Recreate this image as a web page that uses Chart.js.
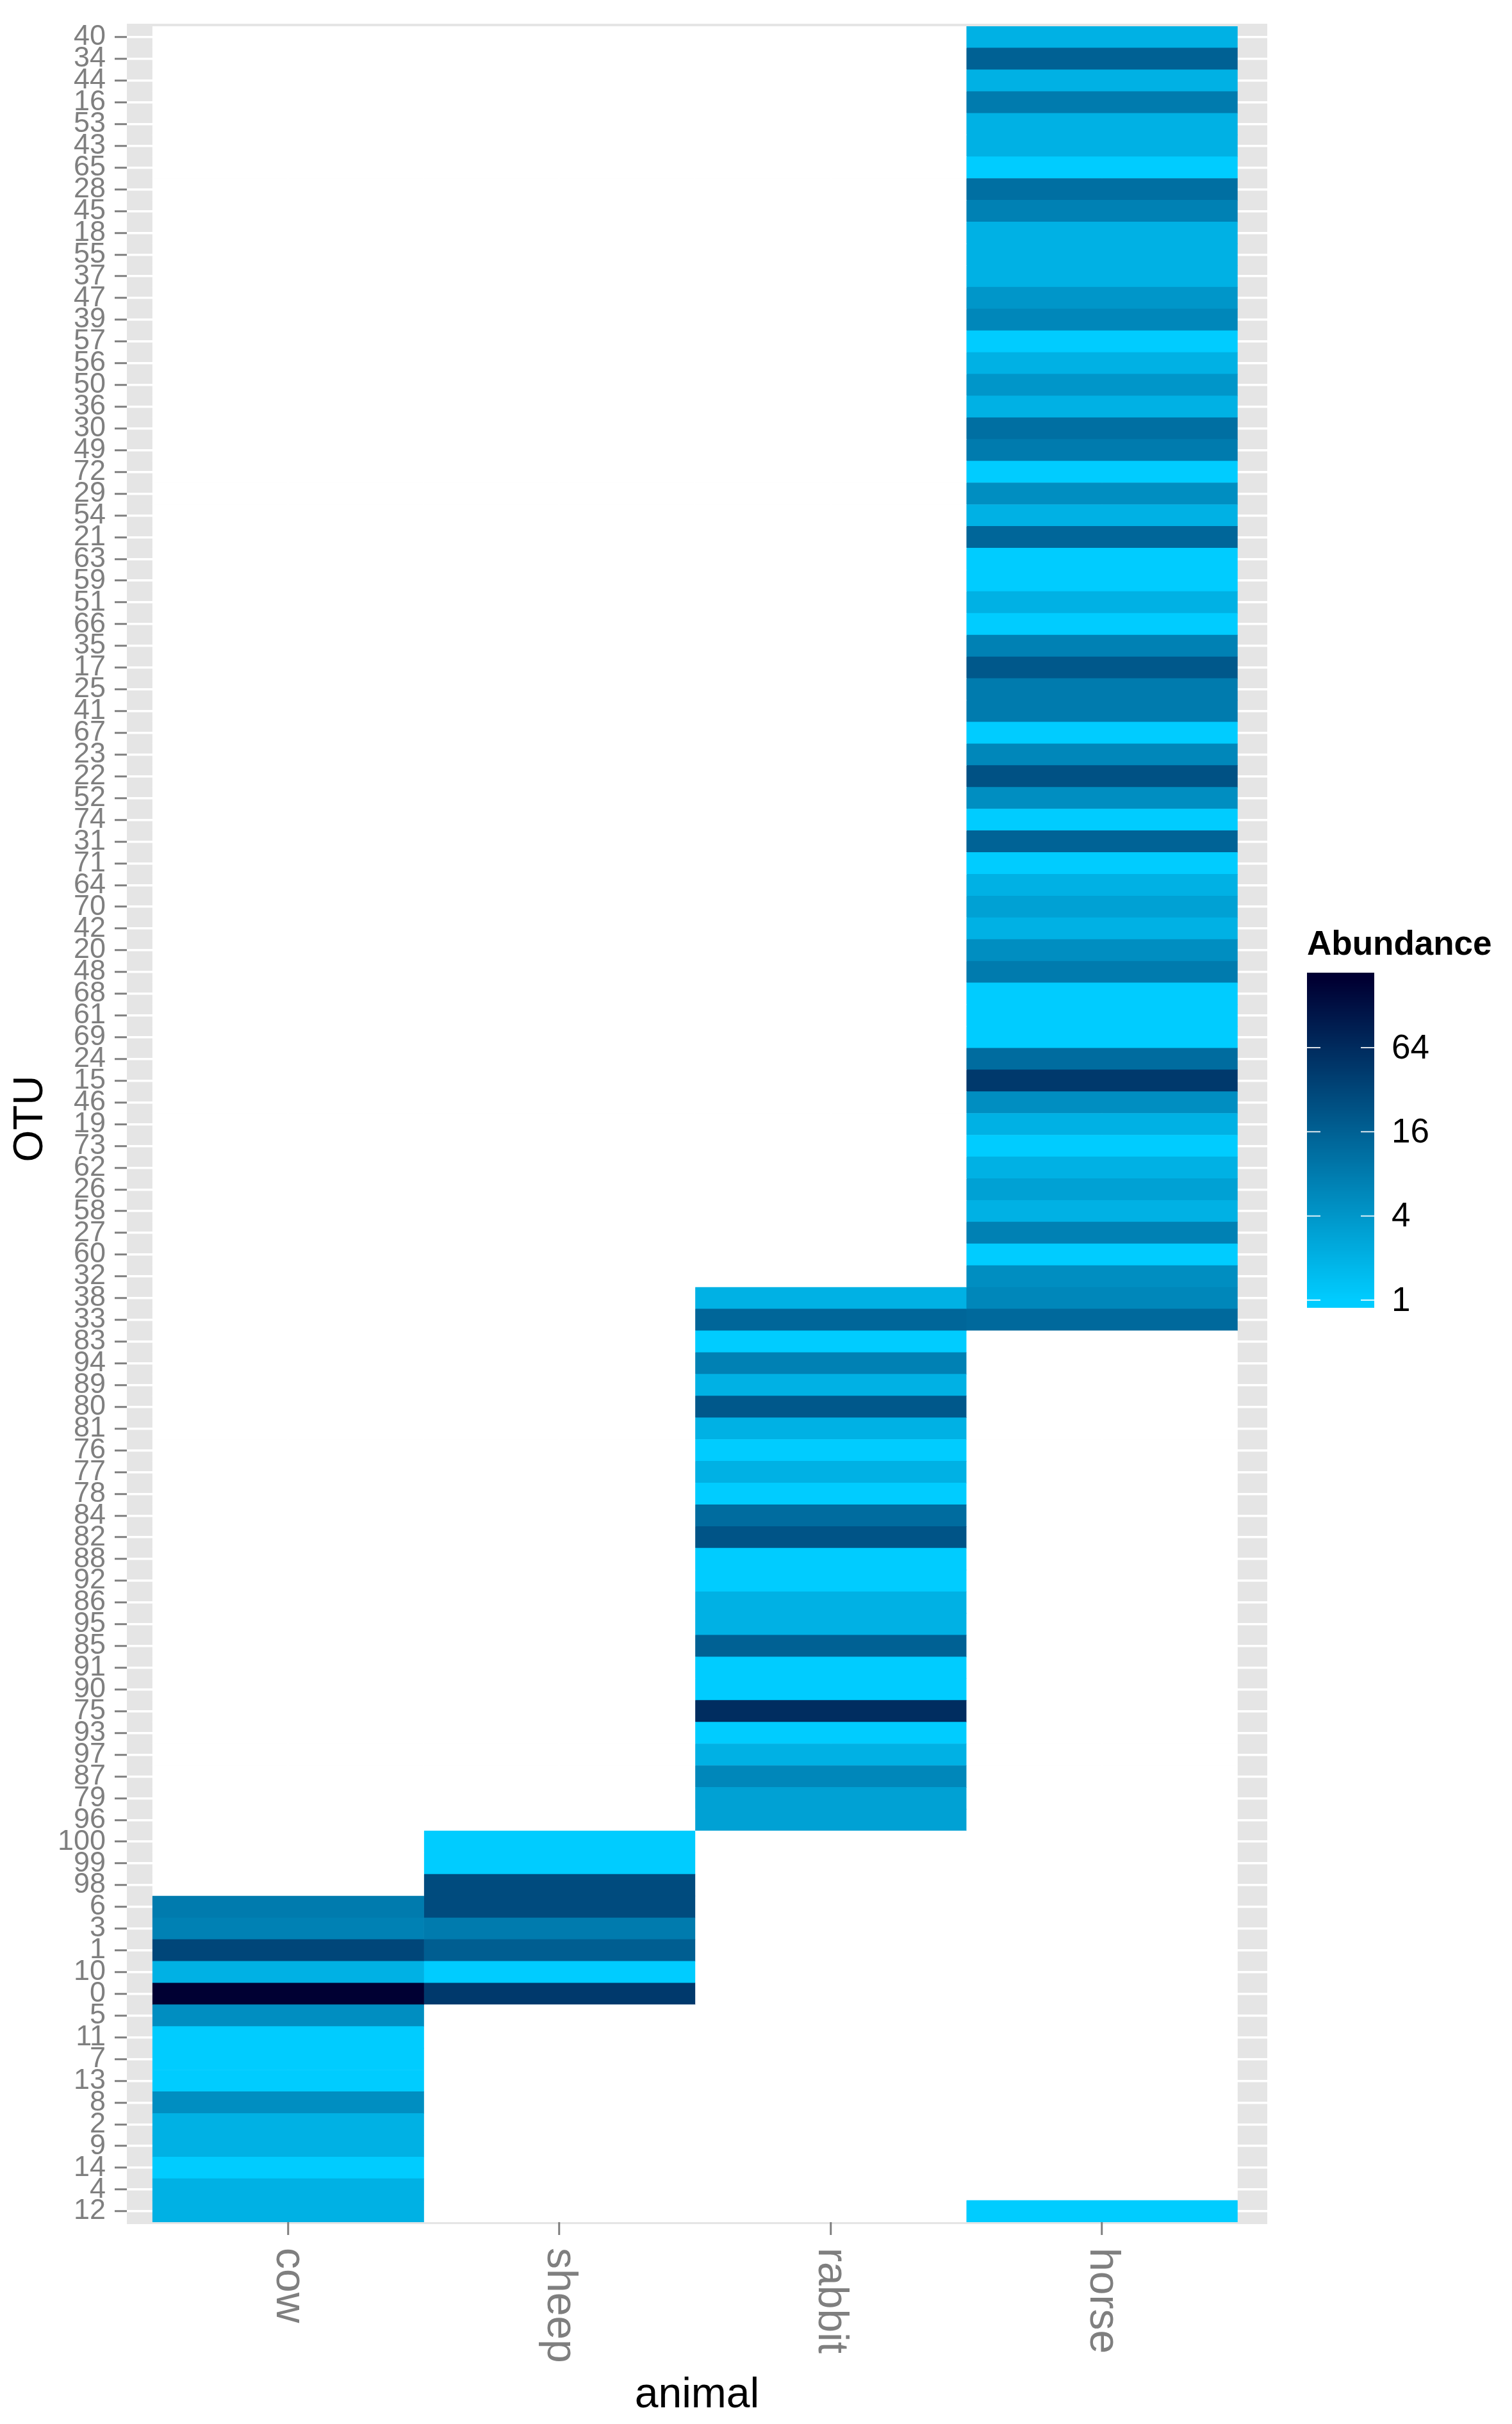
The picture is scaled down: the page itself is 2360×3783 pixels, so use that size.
<!DOCTYPE html>
<html>
<head>
<meta charset="utf-8">
<script src="https://cdn.jsdelivr.net/npm/chart.js@4.4.1/dist/chart.umd.min.js"></script>
<style>
  html, body { margin: 0; padding: 0; background: #ffffff; }
  canvas { display: block; }
</style>
</head>
<body>
<canvas id="c" width="2360" height="3783" style="width:2360px;height:3783px"></canvas>
<script>
// ---------- DATA ----------
// OTU categories, top to bottom as shown on the y axis
const otus = ['40','34','44','16','53','43','65','28','45','18','55','37','47','39','57','56','50','36','30','49',
  '72','29','54','21','63','59','51','66','35','17','25','41','67','23','22','52','74','31','71','64',
  '70','42','20','48','68','61','69','24','15','46','19','73','62','26','58','27','60','32','38','33',
  '83','94','89','80','81','76','77','78','84','82','88','92','86','95','85','91','90','75','93','97',
  '87','79','96','100','99','98','6','3','1','10','0','5','11','7','13','8','2','9','14','4','12'];

const animals = ['cow', 'sheep', 'rabbit', 'horse'];

const cowOtu = ['6','3','1','10','0','5','11','7','13','8','2','9','14','4','12'];
const cowVal = [8, 7, 32, 2, 194, 5, 1, 1, 1, 5, 2, 2, 1, 2, 2];

const sheepOtu = ['100','99','98','6','3','1','10','0'];
const sheepVal = [1, 1, 28, 28, 8, 17, 1, 45];

const rabbitOtu = ['38','33','83','94','89','80','81','76','77','78','84','82','88','92','86','95','85','91','90','75','93','97','87','79','96'];
const rabbitVal = [2, 14, 1, 7, 2, 20, 2, 1, 2, 1, 12, 22, 1, 1, 2, 2, 16, 1, 1, 60, 1, 2, 6, 3, 3];

const horseOtu = ['40','34','44','16','53','43','65','28','45','18','55','37','47','39','57','56','50','36','30','49',
  '72','29','54','21','63','59','51','66','35','17','25','41','67','23','22','52','74','31','71','64',
  '70','42','20','48','68','61','69','24','15','46','19','73','62','26','58','27','60','32','38','33','12'];
const horseVal = [2, 16, 2, 8, 2, 2, 1, 11, 7, 2, 2, 2, 4, 6, 1, 2, 4, 2, 11, 8,
  1, 5, 2, 14, 1, 1, 2, 1, 7, 20, 8, 8, 1, 6, 24, 5, 1, 15, 1, 2,
  3, 2, 5, 8, 1, 1, 1, 12, 45, 5, 2, 1, 2, 3, 2, 7, 1, 5, 6, 13, 1];

const legendBreaks = [1, 4, 16, 64];
const legendTitle = 'Abundance';
const xTitle = 'animal';
const yTitle = 'OTU';

// ---------- COLOUR SCALE (log2, RGB interpolation) ----------
const lowColor = '#00CCFF', highColor = '#000033', emptyColor = '#FFFFFF';
function hexToRgb(h) { return [parseInt(h.slice(1,3),16), parseInt(h.slice(3,5),16), parseInt(h.slice(5,7),16)]; }
const rgbLow = hexToRgb(lowColor), rgbHigh = hexToRgb(highColor);
const allVals = [].concat(cowVal, sheepVal, rabbitVal, horseVal);
const vMin = Math.min.apply(null, allVals), vMax = Math.max.apply(null, allVals);
const lMin = Math.log2(vMin), lMax = Math.log2(vMax);
function tOf(v) { return Math.max(0, Math.min(1, (Math.log2(v) - lMin) / (lMax - lMin))); }
function colourAtT(t) {
  const c = [0,1,2].map(k => Math.round(rgbLow[k] + (rgbHigh[k] - rgbLow[k]) * t));
  return 'rgb(' + c[0] + ',' + c[1] + ',' + c[2] + ')';
}
function colourOf(v) { return (v === null || v === undefined) ? emptyColor : colourAtT(tOf(v)); }

// ---------- DATASETS ----------
const perAnimal = [[cowOtu, cowVal], [sheepOtu, sheepVal], [rabbitOtu, rabbitVal], [horseOtu, horseVal]];
const datasets = animals.map((name, i) => {
  const ids = perAnimal[i][0], vals = perAnimal[i][1];
  const lookup = {};
  ids.forEach((o, k) => { lookup[o] = vals[k]; });
  return {
    label: name,
    data: otus.map(o => ({ y: o, x: [i - 0.5, i + 0.5] })),
    backgroundColor: otus.map(o => colourOf(lookup[o])),
    borderWidth: 0
  };
});

// ---------- PLUGINS (panel, titles, rotated x labels, colourbar) ----------
const FONT = "'Liberation Sans', Arial, Helvetica, sans-serif";
const panelPlugin = {
  id: 'panel',
  beforeDraw(chart) {
    const c = chart.ctx, a = chart.chartArea;
    c.save();
    c.fillStyle = '#ffffff';
    c.fillRect(0, 0, chart.width, chart.height);
    c.fillStyle = '#E5E5E5';
    c.fillRect(a.left, a.top - 4, a.right - a.left, a.bottom - a.top + 7);
    c.restore();
  }
};
const decorPlugin = {
  id: 'decor',
  afterDraw(chart) {
    const c = chart.ctx, a = chart.chartArea, xs = chart.scales.x;
    c.save();
    // rotated x tick labels (reading downward)
    c.fillStyle = '#7F7F7F';
    c.font = '66px ' + FONT;
    c.textAlign = 'left';
    c.textBaseline = 'middle';
    animals.forEach((name, i) => {
      const px = xs.getPixelForValue(i);
      c.save();
      c.translate(px, a.bottom + 40);
      c.rotate(Math.PI / 2);
      c.fillText(name, 0, 0);
      c.restore();
    });
    // axis titles
    c.fillStyle = '#000000';
    c.font = '66px ' + FONT;
    c.textAlign = 'center';
    c.textBaseline = 'alphabetic';
    c.fillText(xTitle, (a.left + a.right) / 2, 3757);
    c.save();
    c.translate(48, 1746);
    c.rotate(-Math.PI / 2);
    c.font = '64px ' + FONT;
    c.textBaseline = 'middle';
    c.fillText(yTitle, 0, 0);
    c.restore();
    // colourbar legend
    const bx = 2040, bw = 105, bTop = 1518, bBot = 2041;
    const yLo = bBot - 12, yHi = bTop + 12;
    c.font = 'bold 53px ' + FONT;
    c.textAlign = 'left';
    c.fillText(legendTitle, bx, 1490);
    for (let y = bTop; y < bBot; y++) {
      const t = Math.max(0, Math.min(1, (yLo - (y + 0.5)) / (yLo - yHi)));
      c.fillStyle = colourAtT(t);
      c.fillRect(bx, y, bw, 1);
    }
    c.font = '53px ' + FONT;
    c.textBaseline = 'middle';
    legendBreaks.forEach(b => {
      const y = yLo - tOf(b) * (yLo - yHi);
      c.strokeStyle = 'rgba(255,255,255,0.85)';
      c.lineWidth = 2;
      c.beginPath();
      c.moveTo(bx, y); c.lineTo(bx + 21, y);
      c.moveTo(bx + bw - 21, y); c.lineTo(bx + bw, y);
      c.stroke();
      c.fillStyle = '#000000';
      c.fillText(String(b), 2172, y + 2);
    });
    c.restore();
  }
};

new Chart(document.getElementById('c').getContext('2d'), {
  type: 'bar',
  data: { labels: otus, datasets: datasets },
  options: {
    indexAxis: 'y',
    responsive: false,
    animation: false,
    devicePixelRatio: 1,
    events: [],
    layout: { padding: { top: 24, right: 382, left: 0, bottom: 0 } },
    plugins: { legend: { display: false }, tooltip: { enabled: false } },
    datasets: { bar: { barPercentage: 1, categoryPercentage: 1, grouped: false, borderWidth: 0 } },
    scales: {
      y: {
        type: 'category',
        offset: true,
        border: { display: false },
        grid: { offset: false, color: '#FFFFFF', lineWidth: 3.5, drawTicks: true,
                tickColor: '#7F7F7F', tickWidth: 3, tickLength: 19 },
        ticks: { autoSkip: false, color: '#7F7F7F', padding: 14,
                 font: { family: FONT, size: 45 } },
        afterFit(s) { s.width = 198; }
      },
      x: {
        type: 'linear',
        min: -0.595,
        max: 3.61,
        border: { display: false },
        grid: { offset: false, color: '#FFFFFF', lineWidth: 3.5, drawTicks: true,
                tickColor: '#7F7F7F', tickWidth: 3, tickLength: 20 },
        ticks: { display: false },
        afterBuildTicks(s) { s.ticks = animals.map((n, i) => ({ value: i })); },
        afterFit(s) { s.height = 315; }
      }
    }
  },
  plugins: [panelPlugin, decorPlugin]
});
</script>
</body>
</html>
